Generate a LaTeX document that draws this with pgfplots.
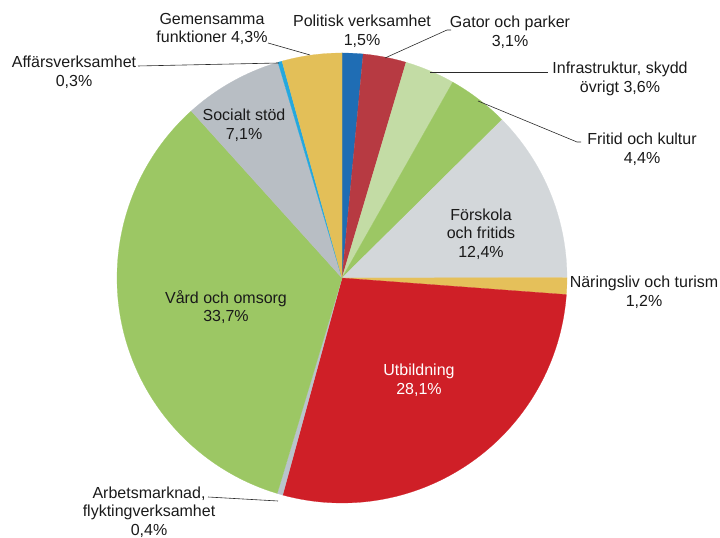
\documentclass[border=0pt]{standalone}
\usepackage{fontspec}
\setmainfont{Liberation Sans}
\usepackage{pgfplots}
\pgfplotsset{compat=1.18}
\definecolor{cPol}{HTML}{1F6DB4}
\definecolor{cGat}{HTML}{B73A42}
\definecolor{cInf}{HTML}{C3DCA5}
\definecolor{cFri}{HTML}{9CC764}
\definecolor{cFor}{HTML}{D3D7DA}
\definecolor{cNar}{HTML}{E5C05A}
\definecolor{cUtb}{HTML}{CF1F27}
\definecolor{cArb}{HTML}{B9C3CB}
\definecolor{cVar}{HTML}{9CC764}
\definecolor{cSoc}{HTML}{B8BEC4}
\definecolor{cAff}{HTML}{25A8DE}
\definecolor{cGem}{HTML}{E3BF58}
\definecolor{txt}{HTML}{1A1A1A}
\definecolor{lead}{HTML}{2A2A2A}
\tikzset{lab/.style={font=\fontsize{16}{18.5}\selectfont, text=txt, align=center, inner sep=0pt}}
% shares (%): 1.5 3.1 3.6 4.4 12.4 1.2 28.1 0.4 33.7 7.1 0.3 4.3 (sum 100.1)
% slice from angle #1 to #2 (degrees, #1<#2), centre (342,259), radius 225
\newcommand{\slice}[3]{\addplot[fill=#3, draw=#3, line width=0.2pt, domain=#1:#2, samples=120, variable=\t]
  ({342+225*cos(\t)},{259+225*sin(\t)}) -- (axis cs:342,259) -- cycle;}
\begin{document}
\begin{tikzpicture}
\begin{axis}[width=720pt, height=537pt, scale only axis, xmin=0, xmax=720, ymin=0, ymax=537,
  enlargelimits=false, axis lines=none, clip=false]
\path (axis cs:0,0) rectangle (axis cs:720,537);
\slice{84.605}{90}{cPol}
\slice{73.457}{84.605}{cGat}
\slice{60.510}{73.457}{cInf}
\slice{44.685}{60.510}{cFri}
\slice{0.090}{44.685}{cFor}
\slice{-4.226}{0.090}{cNar}
\slice{-105.285}{-4.226}{cUtb}
\slice{-106.723}{-105.285}{cArb}
\slice{-227.922}{-106.723}{cVar}
\slice{-253.457}{-227.922}{cSoc}
\slice{-254.536}{-253.457}{cAff}
\slice{-270}{-254.536}{cGem}
% leader lines
\draw[lead, line width=0.6pt] (axis cs:385,479) -- (axis cs:447,507) -- (axis cs:451,507);
\draw[lead, line width=0.6pt] (axis cs:430,465) -- (axis cs:548,465);
\draw[lead, line width=0.6pt] (axis cs:478,436) -- (axis cs:577,395) -- (axis cs:581,395);
\draw[lead, line width=0.6pt] (axis cs:208,40) -- (axis cs:278,36);
\draw[lead, line width=0.6pt] (axis cs:138,471) -- (axis cs:279,474);
\draw[lead, line width=0.6pt] (axis cs:268,494) -- (axis cs:310,482);
% labels
\node[lab] at (axis cs:362,506) {Politisk verksamhet\\1,5\%};
\node[lab] at (axis cs:510,505) {Gator och parker\\3,1\%};
\node[lab] at (axis cs:620,458) {Infrastruktur, skydd\\övrigt 3,6\%};
\node[lab] at (axis cs:642,388) {Fritid och kultur\\4,4\%};
\node[lab] at (axis cs:481,303) {Förskola\\och fritids\\12,4\%};
\node[lab] at (axis cs:644,245) {Näringsliv och turism\\1,2\%};
\node[lab, text=white] at (axis cs:419,157) {Utbildning\\28,1\%};
\node[lab] at (axis cs:149,25) {Arbetsmarknad,\\flyktingverksamhet\\0,4\%};
\node[lab] at (axis cs:226,230) {Vård och omsorg\\33,7\%};
\node[lab] at (axis cs:244,412) {Socialt stöd\\7,1\%};
\node[lab] at (axis cs:74,465) {Affärsverksamhet\\0,3\%};
\node[lab] at (axis cs:212,508) {Gemensamma\\funktioner 4,3\%};
\end{axis}
\end{tikzpicture}
\end{document}
